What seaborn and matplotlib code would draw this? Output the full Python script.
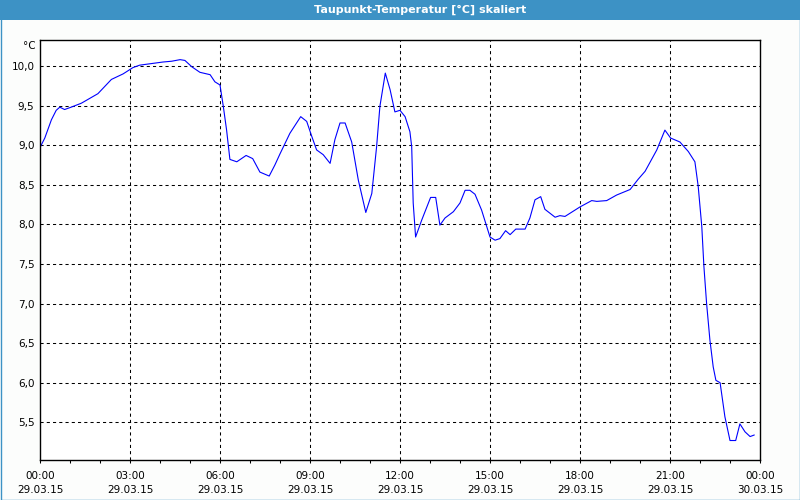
import matplotlib
matplotlib.use("Agg")
import matplotlib.pyplot as plt
from matplotlib.patches import Rectangle
from matplotlib.ticker import MultipleLocator, FixedLocator
import seaborn as sns
import pandas as pd

# ---- data (hours since 29.03.15 00:00, dew point in °C) ----
hours = [0.00, 0.16, 0.38, 0.54, 0.66, 0.82, 1.04, 1.38, 1.93, 2.38, 2.77, 3.10,
         3.32, 3.71, 4.10, 4.39, 4.67, 4.83, 5.06, 5.33, 5.67, 5.83, 6.00, 6.11,
         6.22, 6.33, 6.56, 6.87, 7.09, 7.33, 7.64, 7.83, 8.00, 8.33, 8.69, 8.89,
         9.06, 9.22, 9.44, 9.67, 9.83, 10.00, 10.17, 10.39, 10.61, 10.86, 11.06,
         11.22, 11.33, 11.51, 11.67, 11.83, 12.00, 12.17, 12.33, 12.39, 12.44,
         12.52, 12.72, 13.02, 13.19, 13.33, 13.50, 13.78, 14.00, 14.17, 14.33,
         14.50, 14.72, 15.00, 15.17, 15.33, 15.52, 15.67, 15.86, 16.17, 16.33,
         16.50, 16.69, 16.83, 17.17, 17.33, 17.50, 18.00, 18.39, 18.56, 18.89,
         19.22, 19.67, 19.94, 20.17, 20.56, 20.83, 21.02, 21.33, 21.61, 21.83,
         21.94, 22.06, 22.13, 22.22, 22.33, 22.44, 22.53, 22.67, 22.83, 23.00,
         23.19, 23.33, 23.50, 23.67, 23.81]
dewpoint = [8.97, 9.09, 9.32, 9.44, 9.48, 9.45, 9.48, 9.53, 9.65, 9.83, 9.90, 9.98,
            10.01, 10.03, 10.05, 10.06, 10.08, 10.07, 9.99, 9.92, 9.89, 9.80, 9.76, 9.49,
            9.19, 8.82, 8.79, 8.87, 8.83, 8.66, 8.61, 8.75, 8.89, 9.15, 9.36, 9.30,
            9.11, 8.94, 8.88, 8.77, 9.07, 9.28, 9.28, 9.04, 8.56, 8.15, 8.39,
            8.98, 9.49, 9.91, 9.70, 9.42, 9.44, 9.36, 9.17, 8.98, 8.27,
            7.84, 8.05, 8.34, 8.34, 7.99, 8.08, 8.16, 8.27, 8.43, 8.43,
            8.38, 8.18, 7.84, 7.80, 7.82, 7.92, 7.87, 7.94, 7.94, 8.08,
            8.31, 8.35, 8.19, 8.09, 8.11, 8.10, 8.22, 8.30, 8.29, 8.30,
            8.37, 8.44, 8.57, 8.67, 8.94, 9.19, 9.09, 9.04, 8.92, 8.79,
            8.48, 7.97, 7.47, 7.00, 6.54, 6.20, 6.03, 6.00, 5.57, 5.27,
            5.27, 5.48, 5.38, 5.32, 5.34]

x_tick_hours = [0, 3, 6, 9, 12, 15, 18, 21, 24]
x_tick_times = ["00:00", "03:00", "06:00", "09:00", "12:00", "15:00", "18:00", "21:00", "00:00"]
x_tick_dates = ["29.03.15"] * 8 + ["30.03.15"]
y_tick_values = [5.5, 6.0, 6.5, 7.0, 7.5, 8.0, 8.5, 9.0, 9.5, 10.0]
y_tick_labels = ["5,5", "6,0", "6,5", "7,0", "7,5", "8,0", "8,5", "9,0", "9,5", "10,0"]
title = "Taupunkt-Temperatur [°C] skaliert"
unit = "°C"

sns.set_theme(style="white")
plt.rcParams["font.family"] = ["DejaVu Sans"]

FS = 7.5
W, H = 800, 500
fig = plt.figure(figsize=(8, 5), dpi=100, facecolor="#fcfdfc")

# title bar and window border
bar_color = "#3d92c5"
fig.patches.append(Rectangle((0, 1 - 20 / H), 1, 20 / H, transform=fig.transFigure,
                             facecolor=bar_color, edgecolor="none", zorder=0))
fig.patches.append(Rectangle((0.5 / W, 0.5 / H), 1 - 1 / W, 1 - 1 / H, transform=fig.transFigure,
                             facecolor="none", edgecolor=bar_color, linewidth=1.0, zorder=5))
fig.text(420 / W, 1 - 10 / H, title, color="white", fontsize=8, fontweight="bold",
         ha="center", va="center")

ax = fig.add_axes([40 / W, 1 - 460 / H, 720 / W, 420 / H])
ax.set_facecolor("white")

df = pd.DataFrame({"h": hours, "v": dewpoint})
sns.lineplot(data=df, x="h", y="v", ax=ax, color="#0000ff", linewidth=0.8, legend=False)

ax.set_xlim(0, 24)
ax.set_ylim(5.024, 10.328)

ax.xaxis.set_major_locator(FixedLocator(x_tick_hours))
ax.set_xticklabels([f"{t}\n{d}" for t, d in zip(x_tick_times, x_tick_dates)],
                   linespacing=1.45, fontsize=FS)
ax.xaxis.set_minor_locator(MultipleLocator(1))
ax.set_yticks(y_tick_values)
ax.set_yticklabels(y_tick_labels, fontsize=FS)

ax.tick_params(axis="x", which="both", direction="out", length=2, width=0.75,
               color="black", pad=6, labelcolor="black", bottom=True, labelsize=FS)
ax.tick_params(axis="y", length=0, pad=4, labelcolor="black", labelsize=FS)
ax.set_xlabel("")
ax.set_ylabel("")

for s in ax.spines.values():
    s.set_visible(True)
    s.set_color("black")
    s.set_linewidth(1.0)

for h in x_tick_hours[1:-1]:
    ax.axvline(h, color="black", linewidth=0.75, linestyle=(0, (3, 3)), zorder=1)
for v in y_tick_values:
    ax.axhline(v, color="black", linewidth=0.75, linestyle=(0, (3, 3)), zorder=1)

fig.text(36 / W, 1 - 46 / H, unit, ha="right", va="center", fontsize=FS, color="black")

fig.savefig("out.png", dpi=100, facecolor=fig.get_facecolor())
